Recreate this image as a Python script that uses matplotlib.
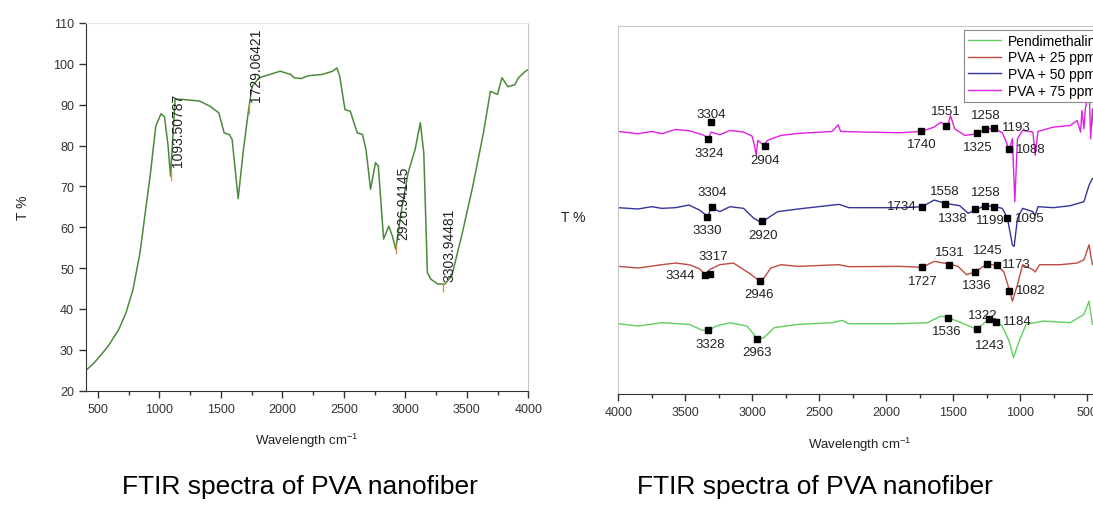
import numpy as np
import matplotlib
matplotlib.use("Agg")
import matplotlib.pyplot as plt

plt.rcParams["font.family"] = ["Liberation Sans", "DejaVu Sans"]
plt.rcParams["mathtext.fontset"] = "custom"
plt.rcParams["mathtext.rm"] = "Liberation Sans"

# ---- left panel: single PVA spectrum (T %) ----
left_wn = [400, 471, 542, 585, 671, 728, 785, 842, 870, 927, 970, 1013, 1041, 1070,
           1090, 1127, 1184, 1326, 1412, 1483, 1526, 1569, 1591, 1640, 1683, 1725,
           1754, 1811, 1982, 2067, 2096, 2153, 2210, 2324, 2409, 2443, 2466, 2509,
           2552, 2609, 2652, 2680, 2717, 2757, 2780, 2823, 2865, 2894, 2922, 2965,
           3022, 3079, 3122, 3150, 3179, 3207, 3264, 3321, 3378, 3464, 3549, 3635,
           3692, 3720, 3749, 3786, 3834, 3891, 3920, 3977, 4000]
left_T = [24.9, 26.9, 29.4, 31.0, 35.1, 39.1, 44.8, 53.8, 60.3, 73.3, 84.8, 87.8, 87.0, 80.0,
          72.5, 91.3, 91.3, 90.9, 89.6, 88.0, 83.1, 82.7, 81.5, 67.0, 79.0, 88.8,
          94.5, 96.6, 98.2, 97.4, 96.6, 96.4, 97.1, 97.4, 98.2, 99.0, 97.0, 88.8,
          88.4, 83.1, 82.7, 79.0, 69.3, 75.8, 75.0, 57.1, 60.3, 57.9, 54.6, 63.6,
          73.3, 79.0, 85.6, 78.2, 48.9, 47.3, 46.1, 46.1, 48.1, 58.7, 70.1, 83.1,
          93.3, 92.9, 92.5, 96.6, 94.4, 94.9, 96.6, 98.2, 98.6]
left_peak_wn = [1093.50787, 1729.06421, 2926.94145, 3303.94481]
left_peak_T = [72.5, 89.0, 54.6, 45.5]
left_peak_labels = ["1093.50787", "1729.06421", "2926.94145", "3303.94481"]

# ---- right panel: stacked spectra (arbitrary T % offsets) ----
series_names = ["Pendimethalin", "PVA + 25 ppm", "PVA + 50 ppm", "PVA + 75 ppm"]

green_wn = [4000, 3853, 3675, 3472, 3370, 3327, 3269, 3167, 3040, 2989, 2964, 2913, 2837,
            2659, 2405, 2329, 2278, 1897, 1694, 1592, 1536, 1440, 1325, 1237, 1178, 1135,
            1084, 1051, 1008, 957, 830, 627, 525, 487, 462, 420]
green_T = [21.2, 20.5, 21.5, 21.0, 19.2, 19.2, 20.5, 21.5, 20.5, 18.0, 16.5, 17.0, 20.0,
           21.0, 21.5, 22.2, 21.2, 21.2, 21.5, 23.5, 23.0, 21.5, 19.5, 22.5, 21.8, 20.5,
           16.0, 11.0, 16.0, 21.0, 22.0, 21.5, 24.0, 28.0, 21.0, 21.5]

red_wn = [4000, 3853, 3675, 3573, 3472, 3395, 3350, 3320, 3243, 3141, 3014, 2951, 2913,
          2862, 2786, 2659, 2354, 2278, 1897, 1732, 1643, 1529, 1465, 1401, 1338, 1249,
          1173, 1122, 1079, 1059, 1021, 983, 906, 889, 856, 703, 576, 525, 487, 462, 420]
red_T = [38.5, 38.0, 39.0, 39.5, 39.0, 37.8, 36.0, 37.5, 39.0, 39.5, 36.2, 34.2, 35.0,
         38.0, 39.0, 38.5, 39.0, 38.4, 38.5, 38.2, 40.0, 39.2, 38.5, 36.0, 36.8, 39.2,
         38.8, 36.8, 31.0, 28.0, 33.0, 39.0, 37.5, 36.8, 39.0, 39.0, 39.5, 40.5, 45.0,
         39.0, 40.0]

blue_wn = [4000, 3853, 3751, 3675, 3573, 3472, 3395, 3332, 3307, 3243, 3167, 3065, 2989,
           2938, 2913, 2887, 2811, 2659, 2354, 2278, 1897, 1732, 1643, 1567, 1516, 1452,
           1389, 1338, 1262, 1199, 1135, 1097, 1059, 1046, 1021, 983, 906, 889, 868, 754,
           627, 525, 487, 462, 420]
blue_T = [56.2, 55.8, 56.5, 56.0, 56.2, 57.0, 55.5, 53.5, 56.2, 55.0, 56.5, 56.0, 53.0,
          51.8, 52.2, 53.0, 55.0, 55.8, 57.2, 56.2, 56.2, 56.5, 58.5, 57.6, 57.2, 56.8,
          54.5, 55.5, 56.8, 56.6, 56.0, 53.2, 45.0, 44.5, 53.0, 56.0, 55.0, 53.8, 56.5,
          56.2, 56.8, 58.0, 63.0, 65.0, 64.5]

magenta_wn = [4000, 3853, 3751, 3675, 3573, 3472, 3370, 3327, 3307, 3243, 3167, 3065, 3002,
              2984, 2971, 2959, 2913, 2887, 2786, 2659, 2405, 2374, 2359, 2341, 2151, 1897,
              1739, 1643, 1592, 1554, 1536, 1521, 1490, 1414, 1325, 1262, 1193, 1135, 1109,
              1084, 1059, 1041, 1021, 983, 906, 889, 868, 754, 627, 576, 550, 540, 525, 515,
              500, 487, 475, 462, 454, 440, 420]
magenta_T = [79.2, 78.5, 79.2, 78.5, 79.8, 79.4, 78.2, 77.2, 79.0, 78.2, 79.5, 79.0, 77.8,
             75.0, 72.0, 76.5, 75.0, 76.5, 78.0, 78.6, 79.2, 80.5, 81.2, 79.2, 79.0, 78.8,
             79.2, 80.5, 82.0, 80.8, 81.8, 84.0, 80.0, 78.0, 78.5, 79.8, 80.2, 78.8, 76.5,
             73.5, 77.0, 58.0, 77.0, 79.5, 79.0, 72.0, 79.2, 80.5, 81.0, 82.5, 79.0, 85.5,
             80.0, 86.0, 89.0, 93.0, 77.0, 86.0, 81.0, 84.0, 82.0]

# marked peaks: position, marker height, label text
green_mk_wn = [3332, 2964, 1536, 1325, 1237, 1178]
green_mk_T = [19.2, 16.5, 23.0, 19.5, 22.5, 21.8]
green_mk_lab = ["3328", "2963", "1536", "1243", "1322", "1184"]

red_mk_wn = [3317, 3350, 2946, 1732, 1529, 1338, 1247, 1173, 1084]
red_mk_T = [36.2, 35.8, 34.2, 38.2, 39.0, 36.8, 39.2, 38.8, 31.0]
red_mk_lab = ["3317", "3344", "2946", "1727", "1531", "1336", "1245", "1173", "1082"]

blue_mk_wn = [3302, 3337, 2926, 1732, 1562, 1338, 1262, 1199, 1097]
blue_mk_T = [56.5, 53.5, 52.2, 56.5, 57.2, 55.7, 56.7, 56.5, 53.2]
blue_mk_lab = ["3304", "3330", "2920", "1734", "1558", "1338", "1258", "1199", "1095"]

magenta_mk_wn = [3307, 3327, 2908, 1739, 1554, 1325, 1262, 1193, 1084]
magenta_mk_T = [82.0, 77.0, 74.7, 79.3, 80.8, 78.6, 79.8, 80.2, 73.8]
magenta_mk_lab = ["3304", "3324", "2904", "1740", "1551", "1325", "1258", "1193", "1088"]

# label offsets in pixels (dx, dy)
green_off = [(2, -14), (0, -13), (-2, -13), (13, -16), (-6, 4), (21, 1)]
red_off = [(3, 18), (-25, 0), (0, -13), (1, -14), (0, 13), (2, -13), (1, 14), (19, 1), (22, 1)]
blue_off = [(0, 15), (0, -13), (1, -14), (-20, 1), (0, 13), (-22, -9), (1, 14), (-3, -13), (22, 0)]
magenta_off = [(0, 8), (1, -14), (0, -14), (0, -13), (0, 15), (1, -14), (1, 14), (22, 1), (22, 0)]

W, H = 1093, 506
fig = plt.figure(figsize=(W / 100, H / 100), dpi=100)

dark = "#333333"
light = "#c8c8c8"

# ---------- left ----------
ax1 = fig.add_axes([85.7 / W, 1 - 391.7 / H, 442.6 / W, 367.7 / H])
ax1.plot(left_wn, left_T, color="#4b8a3a", lw=1.1)
ax1.plot(left_peak_wn, left_peak_T, ls="none", marker="|", ms=7, mew=1.0, color="#e0904a")
for wn, t, lab, dy in zip(left_peak_wn, left_peak_T, left_peak_labels, [10, 8, 10, 6]):
    ax1.annotate(lab, (wn, t), xytext=(0, dy), textcoords="offset pixels",
                 rotation=90, ha="left", va="bottom", fontsize=10, color="#222222")
ax1.set_xlim(400, 4000)
ax1.set_ylim(20, 110)
ax1.set_xticks(np.arange(500, 4001, 500))
ax1.set_xticks(np.arange(750, 4000, 500), minor=True)
ax1.set_yticks(np.arange(20, 111, 10))
ax1.tick_params(axis="both", which="both", direction="out", colors=dark, labelsize=9,
                labelcolor="#333333")
ax1.tick_params(which="major", length=5, width=1)
ax1.tick_params(which="minor", length=3, width=1)
ax1.spines["left"].set_color(dark)
ax1.spines["bottom"].set_color(dark)
ax1.spines["top"].set_color("#e4e4e4")
ax1.spines["right"].set_color(light)
ax1.set_xlabel(r"Wavelength cm$^{\mathregular{-1}}$", fontsize=9.5, color="#222222", labelpad=12)
ax1.set_ylabel("T %", fontsize=10, color="#222222")
ax1.yaxis.set_label_coords(-0.125, 0.5)

# ---------- right ----------
ax2 = fig.add_axes([618.3 / W, 1 - 395 / H, 482.4 / W, 368 / H])
colors = ["#5fd05f", "#bf4a44", "#34349a", "#e020e0"]
spectra = [(green_wn, green_T), (red_wn, red_T), (blue_wn, blue_T), (magenta_wn, magenta_T)]
for (wn, t), c, name in zip(spectra, colors, series_names):
    ax2.plot(wn, t, color=c, lw=1.0, label=name)

marks = [(green_mk_wn, green_mk_T, green_mk_lab, green_off),
         (red_mk_wn, red_mk_T, red_mk_lab, red_off),
         (blue_mk_wn, blue_mk_T, blue_mk_lab, blue_off),
         (magenta_mk_wn, magenta_mk_T, magenta_mk_lab, magenta_off)]
for wn, t, labs, offs in marks:
    ax2.plot(wn, t, ls="none", marker="s", ms=5, color="black")
    for x, y, lab, (dx, dy) in zip(wn, t, labs, offs):
        ax2.annotate(lab, (x, y), xytext=(dx, dy), textcoords="offset pixels",
                     ha="center", va="center", fontsize=9.5, color="#222222")

ax2.set_xlim(4000, 400)
ax2.set_ylim(0, 111)
ax2.set_xticks(np.arange(4000, 499, -500))
ax2.set_xticks(np.arange(3750, 400, -500), minor=True)
ax2.set_yticks([])
ax2.tick_params(axis="x", which="both", direction="out", colors=dark, labelsize=9,
                labelcolor="#333333")
ax2.tick_params(which="major", length=5, width=1)
ax2.tick_params(which="minor", length=3, width=1)
ax2.spines["bottom"].set_color(dark)
for s in ["left", "top", "right"]:
    ax2.spines[s].set_color(light)
ax2.set_xlabel(r"Wavelength cm$^{\mathregular{-1}}$", fontsize=9.5, color="#222222", labelpad=12)
ax2.set_ylabel("T %", fontsize=10, color="#222222", rotation=0, va="center", ha="center")
ax2.yaxis.set_label_coords(-0.094, 0.48)
leg = ax2.legend(loc="upper left", bbox_to_anchor=(0.71, 0.998), fontsize=10,
                 frameon=True, fancybox=False, edgecolor="#888888", framealpha=1,
                 handlelength=2.4, labelspacing=0.2, borderpad=0.3, handletextpad=0.5,
                 borderaxespad=0.2)
leg.get_frame().set_linewidth(0.8)

fig.text(300 / W, 1 - 487 / H, "FTIR spectra of PVA nanofiber", fontsize=19,
         ha="center", va="center", color="black")
fig.text(815 / W, 1 - 487 / H, "FTIR spectra of PVA nanofiber", fontsize=19,
         ha="center", va="center", color="black")

fig.savefig("out.png", dpi=100)
